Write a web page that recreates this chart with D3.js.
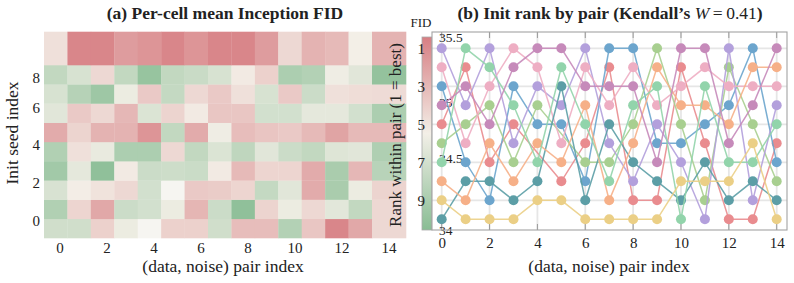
<!DOCTYPE html>
<html><head><meta charset="utf-8">
<script src="https://cdn.jsdelivr.net/npm/d3@7"></script>
<style>
body{margin:0;background:#fff}
svg{display:block}
text{font-family:"Liberation Serif","Times New Roman",serif;fill:#222}
</style>
</head><body>
<svg id="chart" width="794" height="283"></svg>
<script>
// ---------- data ----------
const pairIdx = d3.range(15);
const seedIdx = d3.range(10);
const xTickVals = [0, 2, 4, 6, 8, 10, 12, 14];
const yTickValsA = [0, 2, 4, 6, 8];
const rankTicks = [1, 3, 5, 7, 9];
const cbTicks = [34, 34.5, 35, 35.5];
const cbTickLabels = ["34", "34.5", "35", "35.5"];

// per-cell mean FID (rows = init seed, cols = pair); null = missing
const fidSeed0 = [34.50, 34.50, 34.95, 34.70, null, 34.95, 34.95, 34.50, 35.08, 35.08, 34.30, 35.02, 35.45, 35.22, 34.90];
const fidSeed1 = [34.28, 34.92, 35.22, 34.47, 34.52, 34.70, 35.13, 34.47, 34.05, 34.93, 34.70, 34.90, 34.63, 34.40, 34.90];
const fidSeed2 = [34.56, 34.76, 34.83, 34.90, 34.52, null, 35.00, 34.98, 34.92, 34.42, 34.62, 35.20, 34.23, 34.70, 34.93];
const fidSeed3 = [34.18, 34.65, 34.05, 34.78, 34.47, 34.48, 34.46, 34.78, 35.10, 34.92, 34.92, 35.20, 34.23, 35.12, 34.33];
const fidSeed4 = [34.28, 34.85, 34.68, 34.25, 34.25, 34.90, 34.40, 34.58, 34.38, 34.62, 34.47, 34.40, 34.60, 34.62, 34.27];
const fidSeed5 = [35.20, 34.93, 35.15, 35.15, 35.35, 34.40, 35.20, 34.72, 35.08, 35.03, 35.00, 35.10, 35.25, 35.10, 35.10];
const fidSeed6 = [34.62, 35.00, 34.90, 35.12, 34.58, 34.93, 34.78, 35.02, 35.02, 34.52, 34.52, 34.65, 34.65, 34.52, 34.25];
const fidSeed7 = [34.55, 34.32, 34.15, 34.70, 35.00, 34.42, 34.90, 35.00, 34.85, 34.55, 35.00, 34.47, 34.85, 34.87, 34.88];
const fidSeed8 = [34.40, 34.55, 34.90, 34.40, 34.10, 34.40, 34.45, 34.55, 34.78, 34.95, 34.25, 34.30, 34.72, 34.62, 34.08];
const fidSeed9 = [34.85, 35.45, 35.45, 35.30, 35.35, 35.45, 35.35, 35.45, 35.45, 35.30, 34.90, 35.15, 35.10, 34.75, 35.15];

// rank within pair (1 = best); null = missing
const rankSeed0 = [5, 2, 7, 5, null, 8, 6, 2, 9, 9, 2, 6, 10, 10, 6];
const rankSeed1 = [3, 7, 9, 3, 5, 5, 8, 1, 1, 6, 6, 5, 4, 1, 7];
const rankSeed2 = [6, 5, 4, 7, 4, null, 7, 7, 5, 1, 5, 9, 2, 5, 8];
const rankSeed3 = [1, 4, 1, 6, 3, 4, 1, 6, 8, 5, 7, 10, 1, 9, 4];
const rankSeed4 = [2, 6, 3, 1, 2, 6, 2, 4, 2, 4, 3, 2, 3, 3, 3];
const rankSeed5 = [10, 8, 8, 9, 8, 3, 9, 5, 7, 8, 9, 7, 9, 8, 9];
const rankSeed6 = [8, 9, 6, 8, 6, 7, 4, 9, 6, 2, 4, 4, 5, 2, 2];
const rankSeed7 = [7, 1, 2, 4, 7, 2, 5, 8, 4, 3, 10, 3, 7, 7, 5];
const rankSeed8 = [4, 3, 5, 2, 1, 1, 3, 3, 3, 7, 1, 1, 6, 4, 1];
const rankSeed9 = [9, 10, 10, 10, 9, 9, 10, 10, 10, 10, 8, 8, 8, 6, 10];

const seedColors = ["#e98c8f", "#6ca5cd", "#a8cf90", "#b3a0dc", "#eeaec3",
                    "#5c9ea6", "#f6b088", "#92d4ab", "#c68aba", "#ebcf86"];

const fidRows = [fidSeed0, fidSeed1, fidSeed2, fidSeed3, fidSeed4, fidSeed5, fidSeed6, fidSeed7, fidSeed8, fidSeed9];
const rankRows = [rankSeed0, rankSeed1, rankSeed2, rankSeed3, rankSeed4, rankSeed5, rankSeed6, rankSeed7, rankSeed8, rankSeed9];

// ---------- setup ----------
const svg = d3.select("#chart");
const color = d3.scaleLinear().domain([34, 34.75, 35.5])
  .range(["#89bd94", "#f3efe7", "#d77e83"]).clamp(true);

// ---------- panel (a) heatmap ----------
const xCell = d3.scaleLinear().domain([-0.5, 13.5, 14.5]).range([44, 372, 406]);
const yCell = d3.scaleLinear().domain([-0.5, 8.5, 9.5]).range([238, 65, 31.7]);
const xTickA = d3.scaleLinear().domain([0, 14]).range([59.5, 388.5]);
const yTickA = d3.scaleLinear().domain([0, 6, 8]).range([220, 107, 77]);

const cells = [];
seedIdx.forEach(s => pairIdx.forEach(p => cells.push({s, p, v: fidRows[s][p]})));
const gA = svg.append("g");
gA.selectAll("rect").data(cells).join("rect")
  .attr("x", d => xCell(d.p - 0.5))
  .attr("width", d => xCell(d.p + 0.5) - xCell(d.p - 0.5) + 0.3)
  .attr("y", d => yCell(d.s + 0.5))
  .attr("height", d => yCell(d.s - 0.5) - yCell(d.s + 0.5) + 0.3)
  .attr("fill", d => d.v == null ? "#f6f5f1" : color(d.v));

const axXA = d3.axisBottom(xTickA).tickValues(xTickVals).tickSize(0).tickPadding(0);
svg.append("g").attr("transform", "translate(0,238)").call(axXA)
  .call(g => g.select(".domain").remove())
  .selectAll("text").attr("dy", null).attr("y", 10).attr("dominant-baseline", "central")
  .style("font-size", "15px").style("font-family", "'Liberation Serif',serif").attr("fill", "#222");

const axYA = d3.axisLeft(yTickA).tickValues(yTickValsA).tickSize(0).tickPadding(0);
svg.append("g").attr("transform", "translate(40,0)").call(axYA)
  .call(g => g.select(".domain").remove())
  .selectAll("text").attr("dy", null).attr("x", 0).attr("dominant-baseline", "central")
  .style("font-size", "15px").style("font-family", "'Liberation Serif',serif").attr("fill", "#222");

svg.append("text").attr("x", 225).attr("y", 13).attr("text-anchor", "middle")
  .attr("dominant-baseline", "central").style("font-size", "17.5px").style("font-weight", "bold")
  .text("(a) Per-cell mean Inception FID");
svg.append("text").attr("x", 223).attr("y", 266).attr("text-anchor", "middle")
  .attr("dominant-baseline", "central").style("font-size", "17.5px")
  .text("(data, noise) pair index");
svg.append("text").attr("transform", "translate(12,133) rotate(-90)").attr("text-anchor", "middle")
  .attr("dominant-baseline", "central").style("font-size", "17.5px")
  .text("Init seed index");

// ---------- colorbar ----------
const cbY = d3.scaleLinear().domain([34, 35.5]).range([230, 37]);
const cbTick = d3.scaleLinear().domain([34, 34.5, 35, 35.5]).range([230, 158, 102, 37]);
const defs = svg.append("defs");
const grad = defs.append("linearGradient").attr("id", "cbgrad")
  .attr("x1", 0).attr("y1", 1).attr("x2", 0).attr("y2", 0);
d3.range(0, 1.0001, 0.05).forEach(t => {
  grad.append("stop").attr("offset", t).attr("stop-color", color(34 + 1.5 * t));
});
svg.append("rect").attr("x", 422).attr("y", cbY(35.5)).attr("width", 10)
  .attr("height", cbY(34) - cbY(35.5)).attr("fill", "url(#cbgrad)")
  .attr("stroke", "#aaa").attr("stroke-width", 0.8);
svg.append("text").attr("x", 421).attr("y", 22).attr("text-anchor", "middle")
  .attr("dominant-baseline", "central").style("font-size", "13px").text("FID");

// rank axis label (belongs to panel b, overlaps heatmap)
svg.append("text").attr("transform", "translate(395,135) rotate(-90)").attr("text-anchor", "middle")
  .attr("dominant-baseline", "central").style("font-size", "17px")
  .text("Rank within pair (1 = best)");

// ---------- panel (b) ranks ----------
const xB = d3.scaleLinear().domain([0, 14]).range([441.7, 776.7]);
const yB = d3.scaleLinear().domain([1, 10]).range([48.3, 219.3]);
const frame = {l: 432, r: 787, t: 32, b: 230};

const gB = svg.append("g");
gB.append("rect").attr("x", frame.l).attr("y", frame.t).attr("width", frame.r - frame.l)
  .attr("height", frame.b - frame.t).attr("fill", "#fff");
gB.selectAll("line.gx").data(xTickVals).join("line").attr("class", "gx")
  .attr("x1", d => xB(d)).attr("x2", d => xB(d)).attr("y1", frame.t).attr("y2", frame.b)
  .attr("stroke", "#e6e6e6").attr("stroke-width", 1.8);
gB.selectAll("line.gy").data(rankTicks).join("line").attr("class", "gy")
  .attr("y1", d => yB(d)).attr("y2", d => yB(d)).attr("x1", frame.l).attr("x2", frame.r)
  .attr("stroke", "#e6e6e6").attr("stroke-width", 1.8);

// colorbar tick labels (under the rank marks)
svg.selectAll("text.cbt").data(cbTicks).join("text").attr("class", "cbt")
  .attr("x", 439).attr("y", d => cbTick(d)).attr("dominant-baseline", "central")
  .style("font-size", "13.5px").text((d, i) => cbTickLabels[i]);

// tick marks (inward) on top/bottom
gB.selectAll("line.tk").data(xTickVals.flatMap(v => [[v, frame.t, frame.t + 6], [v, frame.b, frame.b - 6]]))
  .join("line").attr("class", "tk")
  .attr("x1", d => xB(d[0])).attr("x2", d => xB(d[0])).attr("y1", d => d[1]).attr("y2", d => d[2])
  .attr("stroke", "#999").attr("stroke-width", 1);

const line = d3.line().x(d => xB(d.p)).y(d => yB(d.r));
seedIdx.forEach(s => {
  const pts = pairIdx.map(p => ({p, r: rankRows[s][p]})).filter(d => d.r != null);
  const g = svg.append("g");
  g.append("path").datum(pts).attr("d", line).attr("fill", "none")
    .attr("stroke", seedColors[s]).attr("stroke-width", 1.5).attr("stroke-opacity", 0.9);
  g.selectAll("circle").data(pts).join("circle")
    .attr("cx", d => xB(d.p)).attr("cy", d => yB(d.r)).attr("r", 5)
    .attr("fill", seedColors[s]);
});

svg.append("rect").attr("x", frame.l).attr("y", frame.t).attr("width", frame.r - frame.l)
  .attr("height", frame.b - frame.t).attr("fill", "none").attr("stroke", "#a3a3a3").attr("stroke-width", 1.1);

const axXB = d3.axisBottom(xB).tickValues(xTickVals).tickSize(0).tickPadding(0);
svg.append("g").attr("transform", `translate(0,${frame.b})`).call(axXB)
  .call(g => g.select(".domain").remove())
  .selectAll("text").attr("dy", null).attr("y", 13).attr("dominant-baseline", "central")
  .style("font-size", "15px").style("font-family", "'Liberation Serif',serif").attr("fill", "#222");

const axYB = d3.axisLeft(yB).tickValues(rankTicks).tickSize(0).tickPadding(0);
svg.append("g").attr("transform", "translate(425,0)").call(axYB)
  .call(g => g.select(".domain").remove())
  .selectAll("text").attr("dy", null).attr("x", 0).attr("dominant-baseline", "central")
  .style("font-size", "15px").style("font-family", "'Liberation Serif',serif").attr("fill", "#222");

const tb = svg.append("text").attr("x", 610).attr("y", 13).attr("text-anchor", "middle")
  .attr("dominant-baseline", "central").style("font-size", "17.5px");
tb.append("tspan").style("font-weight", "bold").text("(b) Init rank by pair (Kendall\u2019s ");
tb.append("tspan").style("font-style", "italic").text("W");
tb.append("tspan").text("\u2009=\u20090.41");
tb.append("tspan").style("font-weight", "bold").text(")");
svg.append("text").attr("x", 609).attr("y", 266).attr("text-anchor", "middle")
  .attr("dominant-baseline", "central").style("font-size", "17.5px")
  .text("(data, noise) pair index");
</script>
</body></html>
